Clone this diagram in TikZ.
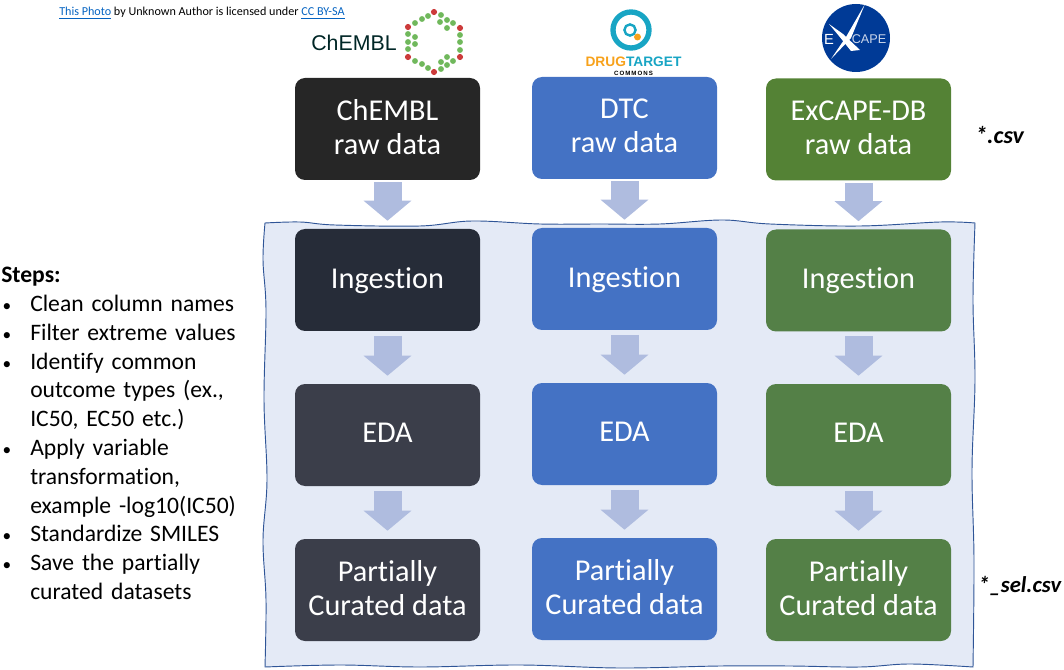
\documentclass[tikz,border=0pt]{standalone}
\usepackage{fontspec}
\setmainfont[Ligatures=NoCommon]{Carlito}
\newfontfamily\logofont{Liberation Sans}
\usetikzlibrary{arrows.meta}
\definecolor{noirA}{HTML}{262626}
\definecolor{noirB}{HTML}{262C38}
\definecolor{noirC}{HTML}{3B3E4A}
\definecolor{bleuB}{HTML}{4472C4}
\definecolor{vertA}{HTML}{548235}
\definecolor{vertB}{HTML}{548047}
\definecolor{fondP}{HTML}{E4EAF6}
\definecolor{bordP}{HTML}{2F5597}
\definecolor{flecheC}{HTML}{AFBCDF}
\definecolor{lienC}{HTML}{0563C1}
\definecolor{molV}{HTML}{70B85C}
\definecolor{molR}{HTML}{CC3B3B}
\definecolor{tealC}{HTML}{18A5C4}
\definecolor{orangeC}{HTML}{F7A11A}
\definecolor{excapeC}{HTML}{003A96}
\tikzstyle{boite} = [rectangle,rounded corners=7.5pt,minimum width=138.75pt,minimum height=76.5pt,inner sep=0pt,align=center,text=white,text depth=3pt,font=\fontsize{22.7}{25.5}\selectfont]
\tikzstyle{fleche} = [-{Triangle[length=15pt,width=35pt]},line width=21pt,draw=flecheC,shorten <=3.5pt,shorten >=6pt]
\tikzstyle{mol} = [fill=molV,draw=none]
\tikzstyle{molrouge} = [fill=molR,draw=none]
\newcommand{\puce}{\par\noindent\llap{\hbox to 21.75pt{\kern1pt\fontsize{13}{13}\selectfont\textbullet\hfil}}}

\begin{document}
\begin{tikzpicture}[x=0.75pt,y=-0.75pt]
	\useasboundingbox (0,0) rectangle (1064,670);

	\draw[fill=fondP,draw=bordP,line width=0.7pt]
		plot[smooth,tension=0.6] coordinates {(265,223) (300,222) (335,225) (420,226) (472,221) (540,224) (600,224) (660,224) (722,220) (770,224) (860,226) (940,222) (975,223)}
		-- plot[smooth,tension=0.6] coordinates {(975,223) (973,300) (975,380) (972,470) (974,560) (973,667)}
		-- plot[smooth,tension=0.6] coordinates {(973,667) (910,664) (860,667) (790,666) (720,666) (620,668) (520,665) (420,667) (340,665) (265,667)}
		-- plot[smooth,tension=0.6] coordinates {(265,667) (266,600) (263,540) (267,480) (264,400) (266,310) (263,260) (265,223)}
		-- cycle;

	\node[boite,fill=noirA] (CA) at (387.5,129) {ChEMBL\\raw data};
	\node[boite,fill=noirB] (CB) at (387.5,280) {Ingestion};
	\node[boite,fill=noirC] (CC) at (387.5,435) {EDA};
	\node[boite,fill=noirC] (CD) at (387.5,590) {Partially\\Curated data};

	\node[boite,fill=bleuB] (DA) at (624.5,128) {DTC\\raw data};
	\node[boite,fill=bleuB] (DB) at (624.5,279) {Ingestion};
	\node[boite,fill=bleuB] (DC) at (624.5,434) {EDA};
	\node[boite,fill=bleuB] (DD) at (624.5,589) {Partially\\Curated data};

	\node[boite,fill=vertA] (EA) at (858.5,129.5) {ExCAPE-DB\\raw data};
	\node[boite,fill=vertB] (EB) at (858.5,280.5) {Ingestion};
	\node[boite,fill=vertB] (EC) at (858.5,435) {EDA};
	\node[boite,fill=vertB] (ED) at (858.5,590) {Partially\\Curated data};

	\draw[fleche,shorten <=1.5pt] (CA.south) -- (CB.north);
	\draw[fleche] (CB.south) -- (CC.north);
	\draw[fleche] (CC.south) -- (CD.north);
	\draw[fleche,shorten <=1.5pt] (DA.south) -- (DB.north);
	\draw[fleche] (DB.south) -- (DC.north);
	\draw[fleche] (DC.south) -- (DD.north);
	\draw[fleche,shorten <=1.5pt] (EA.south) -- (EB.north);
	\draw[fleche] (EB.south) -- (EC.north);
	\draw[fleche] (EC.south) -- (ED.north);

	\node[anchor=west,inner sep=0pt,font=\fontsize{9.1}{11}\selectfont] (CR) at (59,13) {\textcolor{lienC}{\underline{This Photo}} by Unknown Author is licensed under \textcolor{lienC}{\underline{CC BY-SA}}};

	\node[anchor=west,inner sep=0pt,font=\bfseries\itshape\fontsize{18}{21}\selectfont] (CSV) at (975,135) {*.csv};
	\node[anchor=west,inner sep=0pt,font=\bfseries\itshape\fontsize{17}{20}\selectfont] (SEL) at (978,586) {*\_sel.csv};

	\node[anchor=north west,inner sep=0pt,text width=240pt,align=left,font=\fontsize{17.7}{21.6}\selectfont] (ST) at (1,267) {%
		\textbf{Steps:}\par\leftskip=21.75pt
		\puce Clean column names
		\puce Filter extreme values
		\puce Identify common\\outcome types (ex.,\\IC50, EC50 etc.)
		\puce Apply variable\\transformation,\\example -log10(IC50)
		\puce Standardize SMILES
		\puce Save the partially\\curated datasets\par};

	\node[anchor=west,inner sep=0pt,text=black!70!teal,font=\logofont\fontsize{16}{19}\selectfont] (LC) at (311,43) {ChEMBL};
	\foreach \x/\y in {415/23,422/19,428/16,441/15,447/20,453/23,440/22,447/28,460/35,460/42,460/50,453/61,447/65,441/69,441/62,447/57,415/61,422/64,428/68,408/34,408/42,408/49,415/37,415/44}
		\fill[mol] (\x,\y) circle (2.2pt);
	\foreach \x/\y in {434/12,460/28,460/57,434/72,408/57,408/27}
		\fill[molrouge] (\x,\y) circle (2.3pt);

	\draw[tealC,line width=4pt] (631,30) circle (13.5pt);
	\draw[tealC,line width=1.8pt] (630,30) circle (4.2pt);
	\fill[orangeC] (637.5,37) circle (2.6pt);
	\node[inner sep=0pt,font=\logofont\bfseries\fontsize{10.3}{13}\selectfont] (LD) at (633.5,62) {\textcolor{orangeC}{DRUG}\textcolor{tealC}{TARGET}};
	\node[inner sep=0pt,font=\logofont\bfseries\fontsize{4.6}{6}\selectfont] (LE) at (633.5,73) {C\,O\,M\,M\,O\,N\,S};

	\fill[excapeC] (856,38) circle (25.5pt);
	\fill[white] (865,4) -- (851,38) -- (831,59) -- (846,37) -- cycle;
	\fill[white] (829,24) -- (843,34) -- (860,50) -- (851,51) -- (839,36) -- cycle;
	\node[inner sep=0pt,text=white,font=\logofont\fontsize{11}{13}\selectfont] (LX) at (829,39) {E};
	\node[inner sep=0pt,text=white!80!excapeC,font=\logofont\fontsize{9.5}{12}\selectfont] (LY) at (869,39) {CAPE};
\end{tikzpicture}
\end{document}
